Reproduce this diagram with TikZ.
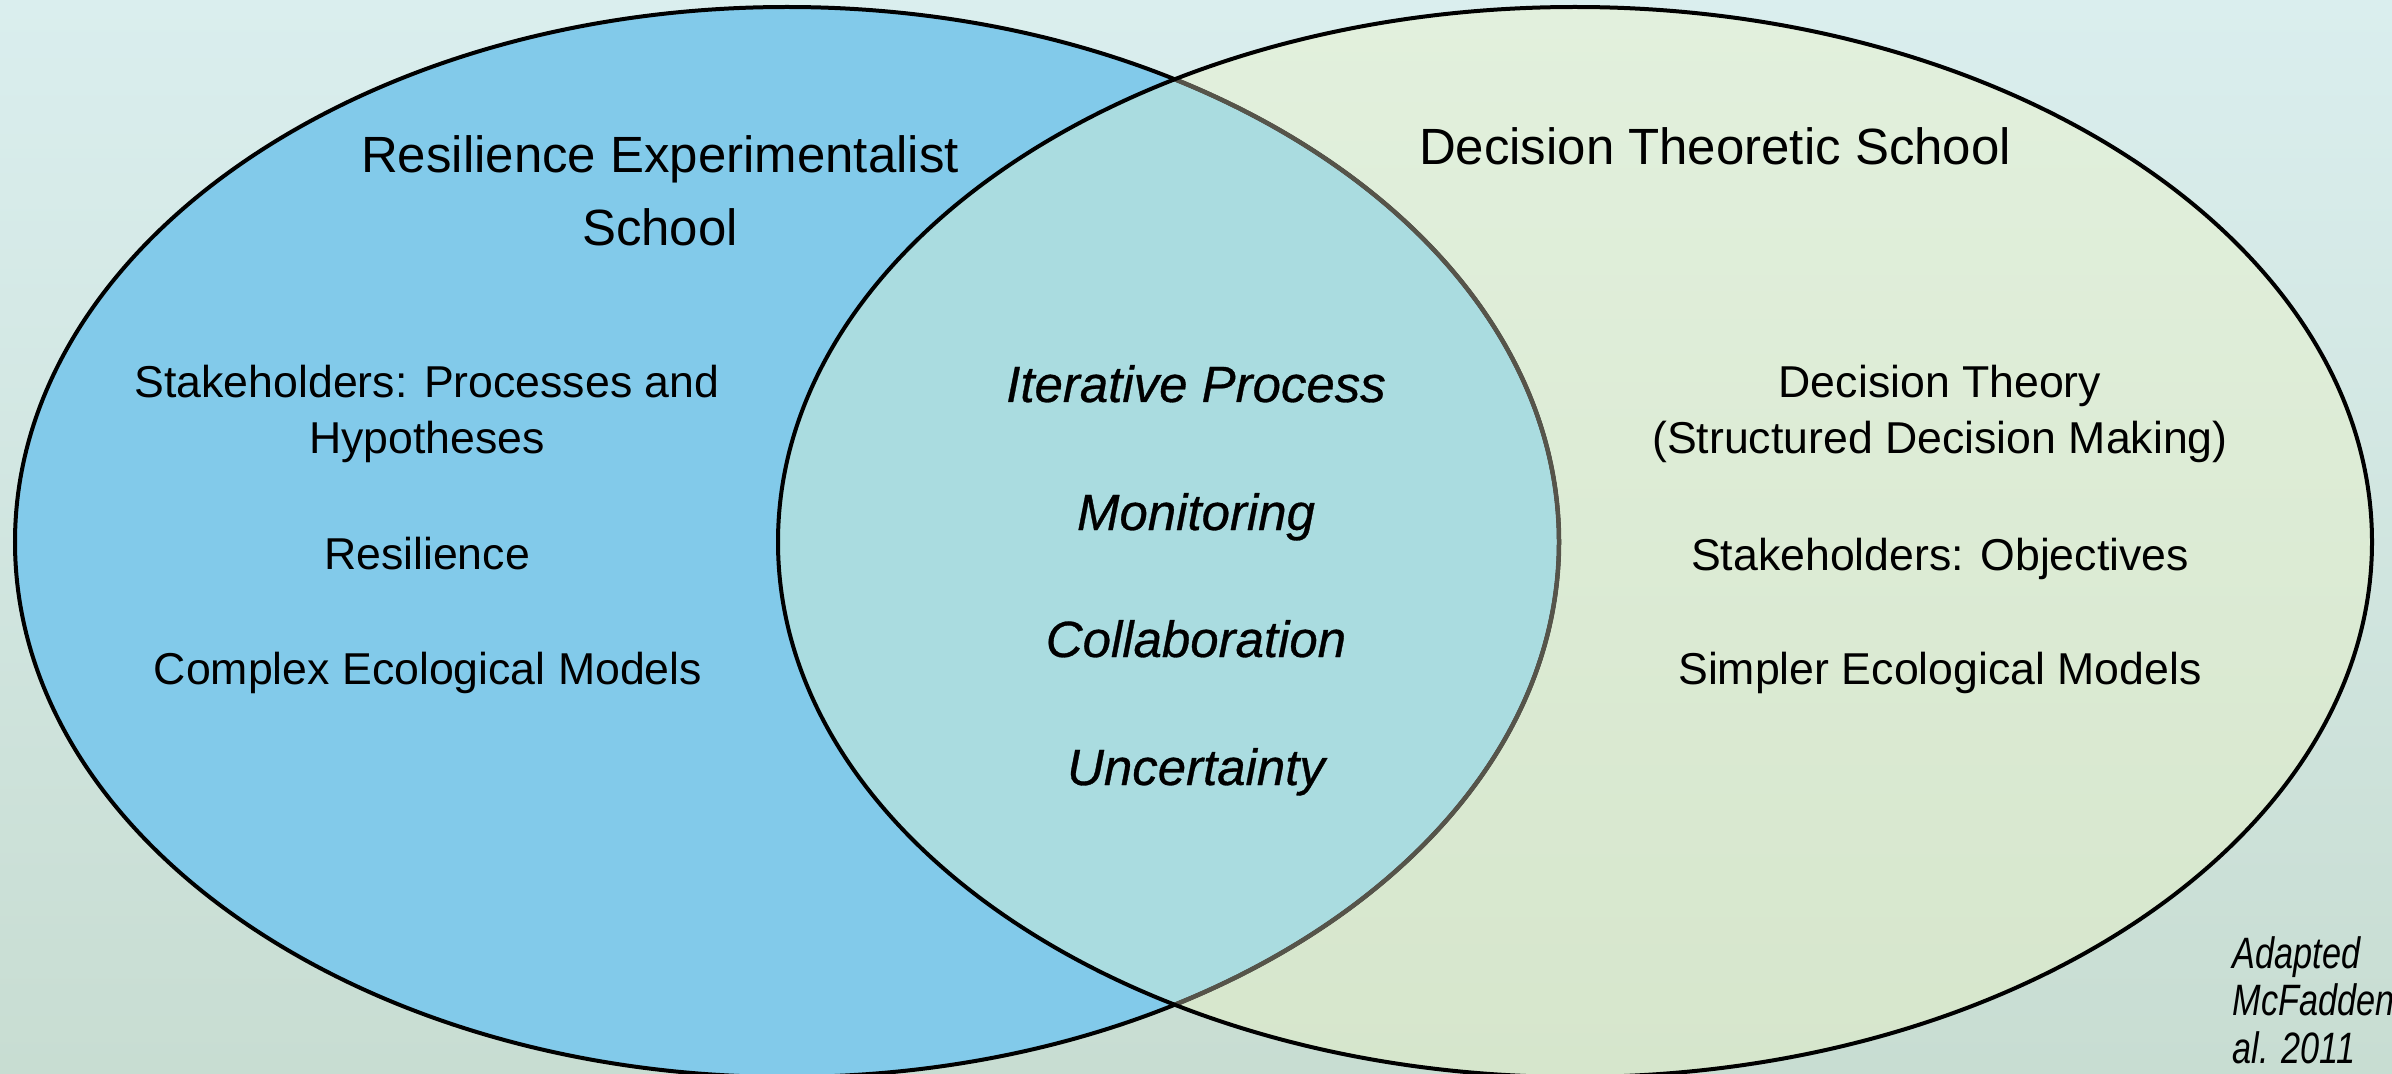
\documentclass[tikz,border=0pt]{standalone}
\usepackage{fontspec}
\setmainfont{Liberation Sans}
\newfontfamily\sharedfont{Liberation Sans}[FakeBold=0.6]
\newfontfamily\citefont{Liberation Sans}[FakeStretch=0.78]
\usetikzlibrary{shapes.geometric}
\definecolor{bgtop}{HTML}{DAEEEE}
\definecolor{bgbot}{HTML}{C8DDD2}
\definecolor{leftfill}{HTML}{82CAEA}
\definecolor{lensfill}{HTML}{AADCE0}
\definecolor{righttop}{HTML}{E2F0DD}
\definecolor{rightbot}{HTML}{D6E6CC}
\definecolor{hiddenline}{HTML}{56544A}
\tikzset{
  titletext/.style={align=center, anchor=base, inner sep=0pt, font=\fontsize{14.5pt}{20.8pt}\selectfont},
  bodytext/.style={align=center, anchor=base, inner sep=0pt, font=\fontsize{12.7pt}{15.9pt}\selectfont},
  sharedtext/.style={anchor=base, inner sep=0pt, font=\sharedfont\fontsize{14.5pt}{17pt}\selectfont\itshape},
  citetext/.style={align=left, anchor=base west, inner sep=0pt, font=\citefont\fontsize{12.5pt}{13.4pt}\selectfont\itshape},
  outline/.style={line width=0.04cm}
}
\begin{document}
\begin{tikzpicture}
\useasboundingbox (0,0) rectangle (23.92,10.73);
\clip (0,0) rectangle (23.92,10.73);
% background
\shade[top color=bgtop, bottom color=bgbot] (0,0) rectangle (23.92,10.73);
% left ellipse fill
\fill[leftfill] (7.87,5.31) ellipse [x radius=7.72, y radius=5.35];
% right ellipse fill
\shade[top color=righttop, bottom color=rightbot] (15.75,5.31) ellipse [x radius=7.97, y radius=5.35];
% overlap
\begin{scope}
  \clip (15.75,5.31) ellipse [x radius=7.97, y radius=5.35];
  \fill[lensfill] (7.87,5.31) ellipse [x radius=7.72, y radius=5.35];
\end{scope}
% outlines
\draw[outline, black] (7.87,5.31) ellipse [x radius=7.72, y radius=5.35];
\begin{scope}
  \clip (15.75,5.31) ellipse [x radius=7.97, y radius=5.35];
  \draw[line width=0.045cm, hiddenline] (7.87,5.31) ellipse [x radius=7.72, y radius=5.35];
\end{scope}
\draw[outline, black] (15.75,5.31) ellipse [x radius=7.97, y radius=5.35];
% titles
\node[titletext] (restitle) at (6.60,8.27) {Resilience Experimentalist\\School};
\node[titletext] (dectitle) at (17.15,9.08) {Decision Theoretic School};
% left items
\node[bodytext] (stakeproc) at (4.27,6.20) {Stakeholders: Processes and\\Hypotheses};
\node[bodytext] (resil) at (4.27,5.04) {Resilience};
\node[bodytext] (complex) at (4.28,3.89) {Complex Ecological Models};
% shared items
\node[sharedtext] (iter) at (11.96,6.71) {Iterative Process};
\node[sharedtext] (monit) at (11.96,5.43) {Monitoring};
\node[sharedtext] (collab) at (11.96,4.16) {Collaboration};
\node[sharedtext] (uncert) at (11.96,2.88) {Uncertainty};
% right items
\node[bodytext] (dectheory) at (19.40,6.20) {Decision Theory\\(Structured Decision Making)};
\node[bodytext] (stakeobj) at (19.40,5.03) {Stakeholders: Objectives};
\node[bodytext] (simpler) at (19.40,3.89) {Simpler Ecological Models};
% citation
\node[citetext] (cite) at (22.32,0.10) {Adapted\\McFadden\\al. 2011};
\end{tikzpicture}
\end{document}
